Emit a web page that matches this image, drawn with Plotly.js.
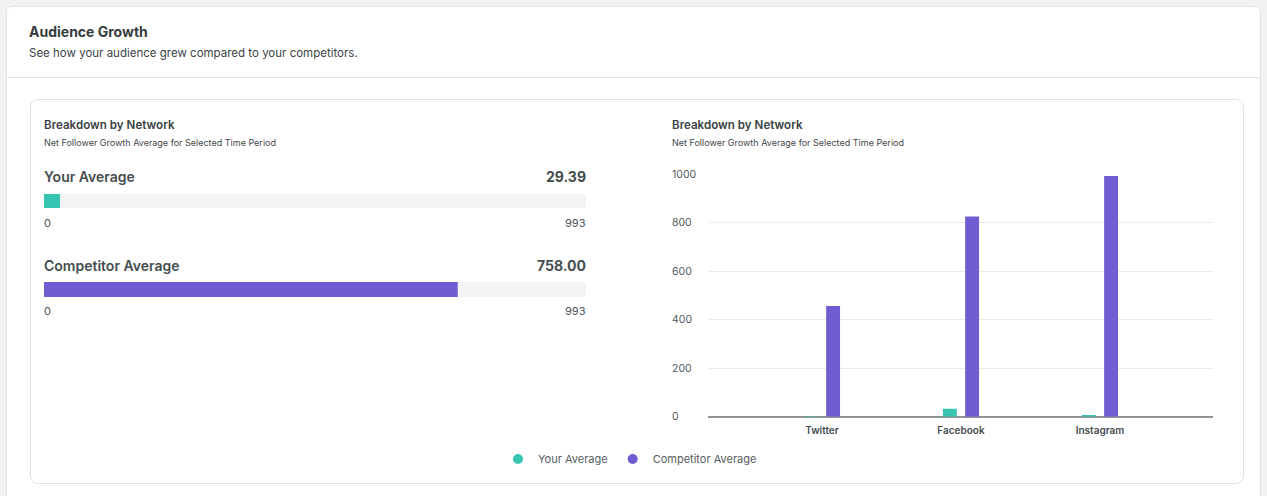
<!DOCTYPE html>
<html>
<head>
<meta charset="utf-8">
<script src="https://cdn.plot.ly/plotly-3.0.1.min.js"></script>
<style>
  html, body { margin: 0; padding: 0; }
  body {
    width: 1267px; height: 496px; overflow: hidden; position: relative;
    background: #f1f3f3;
    font-family: Inter, "Noto Sans", sans-serif;
    color: #3b4345;
  }
  .card {
    position: absolute; left: 6px; top: 6px; width: 1255px; height: 600px;
    background: #ffffff; border: 1px solid #e0e3e3; border-radius: 6px;
    box-sizing: border-box;
  }
  .card-divider {
    position: absolute; left: 0; right: 0; top: 70px; height: 0;
    border-top: 1px solid #e0e3e3;
  }
  .inner {
    position: absolute; left: 30px; top: 99px; width: 1214px; height: 385px;
    border: 1px solid #dfe2e2; border-radius: 8px; box-sizing: border-box;
    background: #ffffff;
  }
  .txt { position: absolute; white-space: nowrap; line-height: 20px; height: 20px; }
  .h1 { font-size: 14px; font-weight: 700; color: #343c3e; }
  .sub { font-size: 11.5px; font-weight: 400; color: #3b4345; }
  .h2 { font-size: 11.6px; font-weight: 600; color: #3a4244; }
  .sub2 { font-size: 9px; font-weight: 400; color: #3f4749; }
  #chart { position: absolute; left: 0; top: 0; width: 1267px; height: 496px; }
</style>
</head>
<body>
  <div class="card"><div class="card-divider"></div></div>
  <div class="inner"></div>

  <div class="txt h1" style="left:29px; top:22px;">Audience Growth</div>
  <div class="txt sub" style="left:29px; top:43px;">See how your audience grew compared to your competitors.</div>

  <div class="txt h2" style="left:44px; top:115px;">Breakdown by Network</div>
  <div class="txt sub2" style="left:44px; top:133px;">Net Follower Growth Average for Selected Time Period</div>

  <div class="txt h2" style="left:672px; top:115px;">Breakdown by Network</div>
  <div class="txt sub2" style="left:672px; top:133px;">Net Follower Growth Average for Selected Time Period</div>

  <div id="chart"></div>

<script>
// Networks and per-network net follower growth
const networks = ['Twitter', 'Facebook', 'Instagram'];
const yourValues = [2, 33, 7];
const competitorValues = [457, 826, 993];

// Period averages shown as progress bars
const yourAverage = 29.39;
const competitorAverage = 758.00;
const scaleMax = 993;

// Series names and value-axis ticks
const seriesNames = ['Your Average', 'Competitor Average'];
const yTickValues = [0, 200, 400, 600, 800, 1000];
const yTickLabels = ['0', '200', '400', '600', '800', '1000'];

const TEAL = '#35c5b1';
const PURPLE = '#705dd2';
const TRACK = '#f2f3f3';
const FONT = 'Inter, "Noto Sans", sans-serif';

// Page-pixel helpers: the plot div covers the whole 1267x496 page
const W = 1267, H = 496;
const px = v => v / W;
const py = v => 1 - v / H;

const traces = [
  // progress bars
  {
    type: 'bar', orientation: 'h', x: [yourAverage], y: [0],
    xaxis: 'x2', yaxis: 'y2', width: 1, marker: { color: TEAL },
    showlegend: false, hoverinfo: 'skip'
  },
  {
    type: 'bar', orientation: 'h', x: [competitorAverage], y: [0],
    xaxis: 'x3', yaxis: 'y3', width: 1, marker: { color: PURPLE },
    showlegend: false, hoverinfo: 'skip'
  },
  // grouped network bars
  {
    type: 'bar', x: networks, y: yourValues, name: seriesNames[0],
    width: 0.1, offset: -0.13, marker: { color: TEAL },
    showlegend: false, hoverinfo: 'skip'
  },
  {
    type: 'bar', x: networks, y: competitorValues, name: seriesNames[1],
    width: 0.1, offset: 0.03, marker: { color: PURPLE },
    showlegend: false, hoverinfo: 'skip'
  },
  // round legend markers for the two series
  {
    type: 'scatter', mode: 'markers', x: [null], y: [null], name: seriesNames[0],
    marker: { color: TEAL, size: 10, symbol: 'circle' }, showlegend: true
  },
  {
    type: 'scatter', mode: 'markers', x: [null], y: [null], name: seriesNames[1],
    marker: { color: PURPLE, size: 10, symbol: 'circle' }, showlegend: true
  }
];

// rounded track behind each progress bar (domain fractions)
function trackPath(wPx, hPx, r) {
  const rx = r / wPx, ry = r / hPx;
  return `M ${rx},0 L ${1 - rx},0 Q 1,0 1,${ry} L 1,${1 - ry} Q 1,1 ${1 - rx},1 ` +
         `L ${rx},1 Q 0,1 0,${1 - ry} L 0,${ry} Q 0,0 ${rx},0 Z`;
}

const annotations = [];
function progressLabels(label, value, yLabel, yScale) {
  annotations.push(
    { xref: 'paper', yref: 'paper', x: px(44), y: py(yLabel), xanchor: 'left', yanchor: 'middle',
      xshift: -2, showarrow: false, text: label,
      font: { family: FONT, size: 14, weight: 600, color: '#454d4f' } },
    { xref: 'paper', yref: 'paper', x: px(586), y: py(yLabel), xanchor: 'right', yanchor: 'middle',
      xshift: 2, showarrow: false, text: value.toFixed(2),
      font: { family: FONT, size: 14, weight: 700, color: '#454d4f' } },
    { xref: 'paper', yref: 'paper', x: px(44), y: py(yScale), xanchor: 'left', yanchor: 'middle',
      xshift: -2, showarrow: false, text: '0',
      font: { family: FONT, size: 11, color: '#4d5557' } },
    { xref: 'paper', yref: 'paper', x: px(586), y: py(yScale), xanchor: 'right', yanchor: 'middle',
      xshift: 2, showarrow: false, text: String(scaleMax),
      font: { family: FONT, size: 11, color: '#4d5557' } }
  );
}
progressLabels(seriesNames[0], yourAverage, 176.5, 223);
progressLabels(seriesNames[1], competitorAverage, 265, 311);

// left-aligned value-axis labels
yTickValues.forEach((v, i) => {
  annotations.push({
    xref: 'paper', yref: 'y', x: px(672), y: v, xanchor: 'left', yanchor: 'middle',
    xshift: -2, showarrow: false, text: yTickLabels[i],
    font: { family: FONT, size: 10.5, color: '#50585a' }
  });
});

const layout = {
  width: W, height: H,
  margin: { l: 0, r: 0, t: 0, b: 0, pad: 0 },
  paper_bgcolor: 'rgba(0,0,0,0)',
  plot_bgcolor: 'rgba(0,0,0,0)',
  barmode: 'group',
  font: { family: FONT, color: '#4a5254' },
  showlegend: true,
  legend: {
    orientation: 'h', x: px(498), xanchor: 'left', y: py(459), yanchor: 'middle',
    font: { family: FONT, size: 11, color: '#555d5f' },
    bgcolor: 'rgba(0,0,0,0)', borderwidth: 0
  },
  xaxis: {
    domain: [px(708), px(1213)],
    range: [-0.82, 2.813],
    type: 'category',
    showgrid: false, zeroline: false, showline: false,
    ticks: '', ticklabelstandoff: 6,
    tickfont: { family: FONT, size: 10, weight: 600, color: '#454d4f' },
    fixedrange: true
  },
  yaxis: {
    domain: [py(416.7), py(174.3)],
    range: [0, 1000],
    tickvals: yTickValues,
    showticklabels: false,
    showgrid: true, gridcolor: '#e9ebec', gridwidth: 1,
    zeroline: true, zerolinecolor: '#8e9496', zerolinewidth: 2,
    showline: false, ticks: '', fixedrange: true
  },
  xaxis2: {
    anchor: 'y2', domain: [px(44), px(586)], range: [0, scaleMax],
    visible: false, fixedrange: true
  },
  yaxis2: {
    anchor: 'x2', domain: [py(208), py(194)], range: [-0.5, 0.5],
    visible: false, fixedrange: true
  },
  xaxis3: {
    anchor: 'y3', domain: [px(44), px(586)], range: [0, scaleMax],
    visible: false, fixedrange: true
  },
  yaxis3: {
    anchor: 'x3', domain: [py(297), py(282)], range: [-0.5, 0.5],
    visible: false, fixedrange: true
  },
  shapes: [
    { type: 'path', xref: 'x2 domain', yref: 'y2 domain', path: trackPath(542, 14, 3),
      fillcolor: TRACK, line: { width: 0 }, layer: 'below' },
    { type: 'path', xref: 'x3 domain', yref: 'y3 domain', path: trackPath(542, 15, 3),
      fillcolor: TRACK, line: { width: 0 }, layer: 'below' }
  ],
  annotations: annotations
};

Plotly.newPlot('chart', traces, layout, { staticPlot: true, displayModeBar: false });
</script>
</body>
</html>
